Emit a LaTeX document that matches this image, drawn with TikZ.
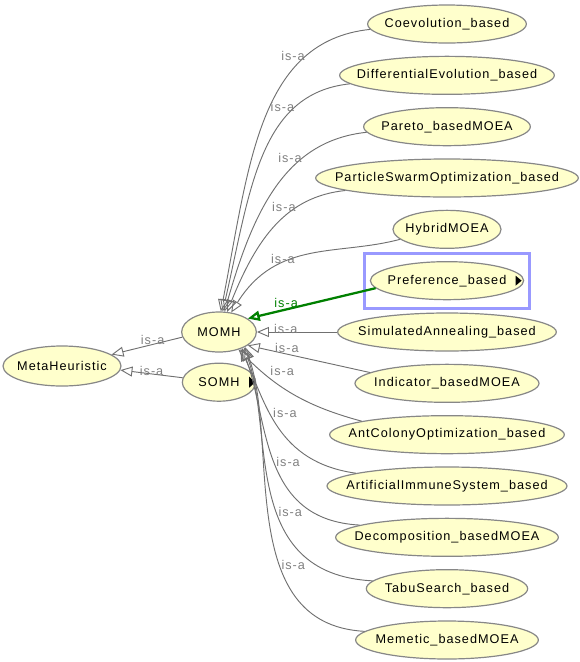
\documentclass[tikz,border=0pt]{standalone}
\usepackage{fontspec}
\setmainfont{Liberation Sans}[LetterSpace=8]
\usepackage{tikz}
\usetikzlibrary{arrows.meta,positioning,shapes.geometric,fit}
\definecolor{corfundo}{RGB}{255,255,204}
\definecolor{corborda}{RGB}{135,135,135}
\definecolor{corcinza}{RGB}{112,112,112}
\definecolor{corrotulo}{RGB}{128,128,128}
\definecolor{corverde}{RGB}{0,128,0}
\definecolor{correalce}{RGB}{153,153,255}

\begin{document}
\begin{tikzpicture}[
  x=0.75pt, y=0.75pt,
  node distance=9.1pt,
  classe/.style={ellipse, draw=corborda, line width=0.9pt, fill=corfundo,
                 inner xsep=-60pt, inner ysep=0pt, minimum height=28.5pt,
                 font=\fontsize{9.5}{11}\selectfont},
  seta/.style={-{Triangle[open, length=9pt, width=7.5pt]}, color=corcinza, line width=0.7pt},
  setaverde/.style={seta, color=corverde, line width=1.7pt},
  rotulo/.style={font=\fontsize{9.5}{11}\selectfont, text=corrotulo, inner sep=0.5pt},
  realce/.style={draw=correalce, line width=2.2pt, inner xsep=4.1pt, inner ysep=6pt}
]
  \useasboundingbox (0,0) rectangle (580,-662);

  % classes a esquerda
  \node[classe, minimum width=88.5pt, minimum height=30pt] (meta) at (62,-366) {MetaHeuristic};
  \node[classe, minimum width=56pt, minimum height=30pt] (momh) at (219,-332) {MOMH};
  \node[classe, minimum width=55pt, below=7.5pt of momh] (somh) {SOMH\hspace{6pt}};

  % subclasses de MOMH
  \node[classe, minimum width=119pt] (coev) at (447,-24) {Coevolution\_based};
  \node[classe, minimum width=161pt, below=of coev] (diff) {DifferentialEvolution\_based};
  \node[classe, minimum width=125pt, below=of diff] (pareto) {Pareto\_basedMOEA};
  \node[classe, minimum width=197pt, below=of pareto] (particle) {ParticleSwarmOptimization\_based};
  \node[classe, minimum width=81pt, below=of particle] (hybrid) {HybridMOEA};
  \node[classe, minimum width=115pt, below=of hybrid] (pref) {Preference\_based\hspace{2pt}};
  \node[classe, minimum width=164pt, below=of pref] (simann) {SimulatedAnnealing\_based};
  \node[classe, minimum width=138pt, below=of simann] (indic) {Indicator\_basedMOEA};
  \node[classe, minimum width=176pt, below=of indic] (ant) {AntColonyOptimization\_based};
  \node[classe, minimum width=180pt, below=of ant] (artif) {ArtificialImmuneSystem\_based};
  \node[classe, minimum width=167pt, below=of artif] (decomp) {Decomposition\_basedMOEA};
  \node[classe, minimum width=121pt, below=of decomp] (tabu) {TabuSearch\_based};
  \node[classe, minimum width=137pt, below=of tabu] (memetic) {Memetic\_basedMOEA};

  \node[realce, fit=(pref)] (caixapref) {};

  % marcadores de subclasses ocultas
  \fill ([xshift=-0.8pt]somh.east) -- ++(-6,5.5) -- ++(0,-11) -- cycle;
  \fill ([xshift=-2pt]pref.east) -- ++(-6,5) -- ++(0,-10) -- cycle;

  \draw[seta] (momh.188) -- node[rotulo, pos=0.42, above=-1pt] {is-a} (meta.13);
  \draw[seta] (somh.173) -- node[rotulo, pos=0.5, above=-2pt] {is-a} (meta.-4);

  \draw[seta] (coev.184) to[out=186, in=79, out looseness=0.9, in looseness=1.2] node[rotulo, pos=0.24, left] {is-a} (momh.85);
  \draw[seta] (diff.185) to[out=186, in=77, out looseness=0.9, in looseness=1.2] node[rotulo, pos=0.25, left] {is-a} (momh.80);
  \draw[seta] (pareto.184) to[out=186, in=74, out looseness=0.9, in looseness=1.2] node[rotulo, pos=0.32, left] {is-a} (momh.75);
  \draw[seta] (particle.187) to[out=186, in=68, out looseness=0.9, in looseness=1.2] node[rotulo, pos=0.32, left] {is-a} (momh.68);
  \draw[seta] (hybrid.192) to[out=195, in=58, out looseness=0.9, in looseness=1.2] node[rotulo, pos=0.58, left] {is-a} (momh.58);
  \draw[setaverde] (pref.186) -- node[rotulo, text=corverde, pos=0.7, above] {is-a} (momh.25);
  \draw[seta] (simann.west) -- node[rotulo, pos=0.64, above=-2pt] {is-a} (momh.east);
  \draw[seta] (indic.172) -- node[rotulo, pos=0.68, above] {is-a} (momh.-25);
  \draw[seta] (ant.171) to[out=165, in=-45] node[rotulo, pos=0.8, right=6pt] {is-a} (momh.-42);
  \draw[seta] (artif.172) to[out=172, in=-65, out looseness=1.2, in looseness=0.9] node[rotulo, pos=0.6, right=2pt] {is-a} (momh.-38);
  \draw[seta] (decomp.172) to[out=177, in=-70, out looseness=1.2, in looseness=0.95] node[rotulo, pos=0.5, right=1pt] {is-a} (momh.-35);
  \draw[seta] (tabu.174) to[out=177, in=-70, out looseness=1.27, in looseness=0.86] node[rotulo, pos=0.43, right=1pt] {is-a} (momh.-32);
  \draw[seta] (memetic.174) to[out=177, in=-70, out looseness=1.08, in looseness=0.83] node[rotulo, pos=0.37, right=1pt] {is-a} (momh.-30);
\end{tikzpicture}
\end{document}
